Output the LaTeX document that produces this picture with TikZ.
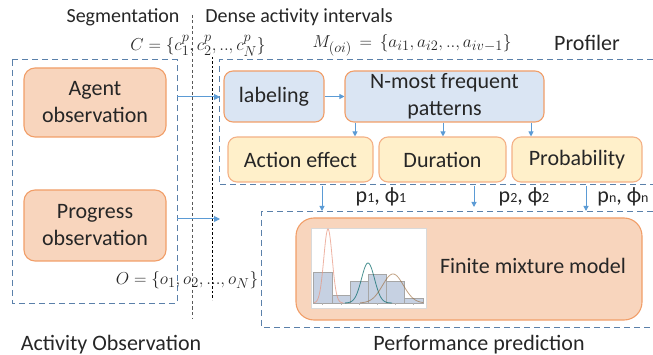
\documentclass[tikz,border=0pt]{standalone}
\usepackage{fontspec}
\setmainfont{Carlito}
\usetikzlibrary{arrows.meta}
\definecolor{peach}{HTML}{F8D5BD}
\definecolor{orab}{HTML}{F19E68}
\definecolor{lblue}{HTML}{DAE5F3}
\definecolor{lyel}{HTML}{FFF0CA}
\definecolor{dashb}{HTML}{5A80AA}
\definecolor{arrb}{HTML}{5B9BD5}
\definecolor{txt}{HTML}{262626}
\definecolor{barf}{HTML}{C6D1E2}
\newcommand\psmall{\fontsize{14}{14}\selectfont}
\begin{document}
\begin{tikzpicture}[x=1pt,y=-1pt,
  bigtxt/.style={font=\fontsize{22}{27}\selectfont, text=txt, align=center, inner sep=0pt},
  toptxt/.style={font=\fontsize{20}{24}\selectfont, text=txt, inner sep=0pt},
  mathtxt/.style={font=\fontsize{19}{22}\selectfont, text=txt, inner sep=0pt},
  obsbox/.style={rounded corners=11pt, draw=orab, fill=peach, line width=1.1pt, bigtxt},
  bluebox/.style={rounded corners=9pt, draw=orab, fill=lblue, line width=1.1pt, bigtxt},
  yelbox/.style={rounded corners=9pt, draw=orab!80, fill=lyel, line width=1.1pt, bigtxt},
  region/.style={draw=dashb, line width=1pt, dash pattern=on 6pt off 4pt},
  arr/.style={draw=arrb, line width=1pt, -{Triangle[length=6pt,width=6pt,fill=arrb]}},
  sarr/.style={draw=arrb, line width=1pt, -{Triangle[length=5pt,width=5pt,fill=arrb]}}
]
\useasboundingbox (0,0) rectangle (653,355);

% dividers
\draw[gray!70!black, line width=1pt, dash pattern=on 3pt off 2.5pt] (192,15) -- (192,318);
\draw[black, line width=0.8pt, dash pattern=on 2.5pt off 2pt] (212,57) -- (212,300);

% dashed regions
\draw[region] (12,60) rectangle (177,303);
\draw[region] (653,60) -- (219,60) -- (219,185) -- (653,185);
\draw[region] (653,212) -- (261,212) -- (261,327) -- (653,327);

% top texts
\node[toptxt] (seg) at (123,17) {Segmentation};
\node[toptxt] (dense) at (299,17) {Dense activity intervals};
\node[bigtxt] (prof) at (587,43) {Profiler};
\node[mathtxt] (cset) at (198,46) {$C=\{c^p_1,c^p_2,..,c^p_N\}$};
\node[mathtxt] (mset) at (412,45) {$M_{(oi)}\,=\,\{a_{i1},a_{i2},..,a_{iv-1}\}$};
\node[mathtxt] (oset) at (187,280) {$O=\{o_1,o_2,...,o_N\}$};

% activity boxes
\node[obsbox, minimum width=142pt, minimum height=69pt] (agent) at (95,102.5) {Agent\\observation};
\node[obsbox, minimum width=142pt, minimum height=71pt] (prog) at (95,225.5) {Progress\\observation};

% profiler boxes
\node[bluebox, minimum width=100pt, minimum height=51pt] (lab) at (274,96.5) {labeling};
\node[bluebox, minimum width=199pt, minimum height=51pt] (nmost) at (444.5,96.5) {N-most frequent\\patterns};
\node[yelbox, minimum width=145pt, minimum height=45pt] (act) at (300.5,159.5) {Action effect};
\node[yelbox, minimum width=127pt, minimum height=45pt] (dur) at (442.5,159.5) {Duration};
\node[yelbox, minimum width=130pt, minimum height=45pt] (prob) at (577,159.5) {Probability};

% arrows
\coordinate (a1s) at (177,97);
\coordinate (a1e) at (220,97);
\coordinate (a2s) at (177,219);
\coordinate (a2e) at (220,219);
\draw[arr] (a1s) -- (a1e);
\draw[arr] (a2s) -- (a2e);
\draw[sarr] (lab) -- (nmost);
\draw[sarr] (355,0 |- nmost.south) -- (355,0 |- act.north);
\draw[sarr] (443,0 |- nmost.south) -- (443,0 |- dur.north);
\draw[sarr] (531,0 |- nmost.south) -- (531,0 |- prob.north);

% parameter arrows
\coordinate (d1s) at (322,186); \coordinate (d1e) at (322,211);
\coordinate (d2s) at (474,186); \coordinate (d2e) at (474,207);
\coordinate (d3s) at (586,186); \coordinate (d3e) at (586,211);
\draw[sarr] (d1s) -- (d1e);
\draw[sarr] (d2s) -- (d2e);
\draw[sarr] (d3s) -- (d3e);
\node[bigtxt] (p1) at (381,197) {p{\psmall 1}, ϕ{\psmall 1}};
\node[bigtxt] (p2) at (524,197) {p{\psmall 2}, ϕ{\psmall 2}};
\node[bigtxt] (pn) at (623,197) {p{\psmall n}, ϕ{\psmall n}};

% finite mixture model
\node[obsbox, rounded corners=18pt, minimum width=346pt, minimum height=102pt] (fmm) at (469,269) {};
\node[bigtxt] (fmmt) at (533,266) {Finite mixture model};

% histogram
\fill[white] (311,228) rectangle (426,308);
\draw[gray!30, line width=0.4pt] (311,228) rectangle (426,308);
\foreach \a/\b/\t in {313/332/272, 332/350/295, 350/368/281, 368/386/274, 386/404/281, 404/423/298} {
  \draw[fill=barf, draw=gray!70, line width=0.6pt] (\a,303) rectangle (\b,\t);
}
\foreach \x in {322,341,359,377,395,413} { \draw[gray!60, line width=0.3pt] (\x,303) -- (\x,305); }
\draw[red!40!brown!60, line width=0.8pt, opacity=0.7, domain=314:343, samples=60, smooth] plot (\x,{303-74*exp(-((\x-328)/4.2)^2/2)});
\draw[teal!80!black, line width=0.8pt, opacity=0.7, domain=345:392, samples=60, smooth] plot (\x,{303-40*exp(-((\x-368)/6.5)^2/2)});
\draw[brown!80!black, line width=0.8pt, opacity=0.6, domain=360:423, samples=60, smooth] plot (\x,{303-29*exp(-((\x-393)/10.5)^2/2)});

% bottom titles
\node[bigtxt] (acttitle) at (111,345) {Activity Observation};
\node[bigtxt] (perftitle) at (479,345) {Performance prediction};
\end{tikzpicture}
\end{document}
